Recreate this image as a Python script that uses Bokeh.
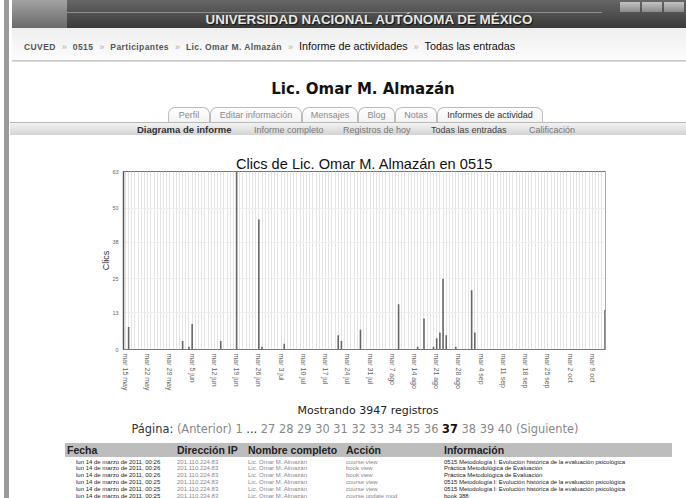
from bokeh.plotting import figure
from bokeh.models import Range1d, FixedTicker, Div
from bokeh.layouts import column
from bokeh.embed import file_html
from bokeh.resources import INLINE

# ---------------- data ----------------
tick_days = [0, 7, 14, 21, 28, 35, 42, 49, 56, 63, 70, 77, 84, 91, 98, 105, 112, 119, 126, 133, 140, 147]
tick_labels = ["mar 15 may", "mar 22 may", "mar 29 may", "mar 5 jun", "mar 12 jun", "mar 19 jun",
               "mar 26 jun", "mar 3 jul", "mar 10 jul", "mar 17 jul", "mar 24 jul", "mar 31 jul",
               "mar 7 ago", "mar 14 ago", "mar 21 ago", "mar 28 ago", "mar 4 sep", "mar 11 sep",
               "mar 18 sep", "mar 25 sep", "mar 2 oct", "mar 9 oct"]
bar_days = [1, 18, 20, 21, 30, 35, 42, 43, 50, 67, 68, 74, 86, 92, 94, 97, 98, 99, 100, 101, 104, 109, 110, 151]
bar_clicks = [8, 3, 1, 9, 3, 63, 46, 1, 2, 5, 3, 7, 16, 1, 11, 1, 4, 6, 25, 5, 1, 21, 6, 14]
y_ticks = [0, 13, 25, 38, 50, 63]
n_days = 152

chart_title = "Clics de Lic. Omar M. Almazán en 0515"
y_label = "Clics"

banner_text = "UNIVERSIDAD NACIONAL AUTÓNOMA DE MÉXICO"
crumbs_small = ["CUVED", "0515", "Participantes", "Lic. Omar M. Almazán"]
crumbs_big = ["Informe de actividades", "Todas las entradas"]
user_name = "Lic. Omar M. Almazán"
tabs = ["Perfil", "Editar información", "Mensajes", "Blog", "Notas", "Informes de actividad"]
subtabs = ["Diagrama de informe", "Informe completo", "Registros de hoy", "Todas las entradas", "Calificación"]
records_text = "Mostrando 3947 registros"
pages = ["1", "...", "27", "28", "29", "30", "31", "32", "33", "34", "35", "36", "37", "38", "39", "40"]
current_page = "37"
table_headers = ["Fecha", "Dirección IP", "Nombre completo", "Acción", "Información"]
row_dates = ["lun 14 de marzo de 2011, 00:26", "lun 14 de marzo de 2011, 00:26", "lun 14 de marzo de 2011, 00:26",
             "lun 14 de marzo de 2011, 00:25", "lun 14 de marzo de 2011, 00:25", "lun 14 de marzo de 2011, 00:25"]
row_ips = ["201.110.224.83"] * 6
row_names = ["Lic. Omar M. Almazán"] * 6
row_actions = ["course view", "book view", "book view", "course view", "course view", "course update mod"]
row_info = ["0515 Metodología I: Evolución histórica de la evaluación psicológica",
            "Práctica Metodológica de Evaluación",
            "Práctica Metodológica de Evaluación",
            "0515 Metodología I: Evolución histórica de la evaluación psicológica",
            "0515 Metodología I: Evolución histórica de la evaluación psicológica",
            "book 388"]

ARIAL = "'Liberation Sans', Arial, sans-serif"
VERD = "'DejaVu Sans', Verdana, sans-serif"


def box(x, y, w, h, bg, extra=""):
    return (f'<div style="position:absolute;left:{x}px;top:{y}px;width:{w}px;height:{h}px;'
            f'background:{bg};{extra}"></div>')


def txt(x, y, s, size, color="#222", weight="normal", fam=ARIAL, anchor="left", extra="", lh=1.2):
    tr = "translate(-50%,-50%)" if anchor == "center" else "translateY(-50%)"
    return (f'<div style="position:absolute;left:{x}px;top:{y}px;transform:{tr};font-family:{fam};'
            f'font-size:{size}px;font-weight:{weight};color:{color};white-space:nowrap;line-height:{lh};{extra}">{s}</div>')


# ---------------- top of page ----------------
top = [box(4, 0, 5, 150, "#9a9a9a")]
top.append(box(12, 0, 674, 28, "linear-gradient(#666666,#3a3a3a)"))
top.append(box(12, 0, 55, 28, "linear-gradient(#a2a2a2,#6a6a6a)"))
top.append(box(67, 12, 535, 1, "#8e8e8e"))
for ix in (620, 642, 664):
    top.append(box(ix, 2, 20, 10, "linear-gradient(#c4c4c4,#8a8a8a)"))
top.append(txt(369, 20, banner_text, 13.4, "#e6e6e6", "bold", ARIAL, "center",
               "text-shadow:1px 1px 1px #111;"))
top.append(box(12, 28, 674, 32, "linear-gradient(#efefef,#fcfcfc)"))
top.append(box(12, 60, 674, 2, "linear-gradient(#bdbdbd,#e8e8e8)"))
SEP = '<span style="color:#aaa;font-weight:normal;font-size:9px;margin:0 6px;letter-spacing:0">»</span>'
crumb_html = SEP.join(f'<span style="font-size:8.5px;font-weight:bold;color:#555;letter-spacing:0.4px">{s}</span>'
                      for s in crumbs_small)
crumb_html += SEP + SEP.join(f'<span style="font-size:10.8px;color:#111">{s}</span>' for s in crumbs_big)
top.append(txt(24, 46, crumb_html, 10.8, "#111"))
top.append(txt(363, 89, user_name, 15, "#111", "bold", VERD, "center"))
tab_x = [168, 210, 302, 358, 395, 437]
tab_w = [42, 92, 56, 37, 42, 106]
for i, (tx, tw, s) in enumerate(zip(tab_x, tab_w, tabs)):
    col = "#333" if i == len(tabs) - 1 else "#8a8a8a"
    top.append(f'<div style="position:absolute;left:{tx}px;top:107px;width:{tw}px;height:15px;box-sizing:border-box;'
               f'border:1px solid #bcbcbc;border-bottom:none;border-radius:7px 7px 0 0;'
               f'background:linear-gradient(#ffffff,#f3f3f3);text-align:center;line-height:14px;'
               f'font-family:{ARIAL};font-size:9px;color:{col};white-space:nowrap;">{s}</div>')
top.append(box(10, 122, 676, 13, "linear-gradient(#f3f3f3,#d3d3d3)", "border-top:1px solid #b8b8b8;"))
sub_x = [137, 254, 343, 431, 529]
sub_c = ["#333", "#777", "#777", "#444", "#777"]
for i, (sx_, s, c) in enumerate(zip(sub_x, subtabs, sub_c)):
    top.append(txt(sx_, 130, s, 9.5 if i == 0 else 9, c, "bold" if i == 0 else "normal"))

top_div = Div(text='<div style="position:relative;width:686px;height:150px;overflow:hidden;">'
              + "".join(top) + "</div>", width=686, height=150, margin=0)

# ---------------- chart ----------------
p = figure(width=686, height=252, x_range=Range1d(-0.62, 151.15), y_range=Range1d(0, 63),
           output_backend="svg", toolbar_location=None,
           min_border_left=123, min_border_right=81, min_border_top=21, min_border_bottom=53,
           title=chart_title)
p.title.align = "center"
p.title.text_font = "Liberation Sans"
p.title.text_font_size = "14.6px"
p.title.text_font_style = "normal"
p.title.text_color = "#111111"
p.title.standoff = 0
p.title.offset = 0

p.vbar(x=bar_days, top=bar_clicks, width=0.5, fill_color="#666666", line_color=None)

p.xaxis.ticker = FixedTicker(ticks=tick_days)
p.xaxis.major_label_overrides = dict(zip(tick_days, tick_labels))
p.xaxis.major_label_orientation = "vertical"
p.xaxis.major_label_text_font = "Liberation Sans"
p.xaxis.major_label_text_font_size = "7px"
p.xaxis.major_label_text_color = "#666666"
p.xaxis.major_label_standoff = 4
p.xaxis.major_tick_out = 0
p.xaxis.major_tick_in = 0
p.xaxis.major_tick_line_color = None
p.xaxis.minor_tick_line_color = None
p.xaxis.axis_line_color = "#777777"
p.xaxis.axis_line_dash = "1 1"

p.yaxis.ticker = FixedTicker(ticks=y_ticks)
p.yaxis.major_label_text_font = "Liberation Sans"
p.yaxis.major_label_text_font_size = "5.5px"
p.yaxis.major_label_text_color = "#666666"
p.yaxis.major_label_standoff = 5
p.yaxis.major_tick_out = 0
p.yaxis.major_tick_in = 0
p.yaxis.major_tick_line_color = None
p.yaxis.minor_tick_line_color = None
p.yaxis.axis_line_color = "#555555"
p.yaxis.axis_line_width = 1.5
p.yaxis.axis_label = y_label
p.yaxis.axis_label_text_font = "Liberation Sans"
p.yaxis.axis_label_text_font_size = "9px"
p.yaxis.axis_label_text_font_style = "normal"
p.yaxis.axis_label_text_color = "#333333"
p.yaxis.axis_label_standoff = -2

p.xgrid.ticker = FixedTicker(ticks=list(range(n_days)))
p.xgrid.grid_line_color = "#e4e4e4"
p.ygrid.grid_line_color = "#eeeeee"
p.outline_line_color = "#707070"
p.background_fill_color = "#ffffff"
p.border_fill_color = None

# ---------------- bottom of page ----------------
bot = [box(4, 0, 5, 96, "#9a9a9a")]
bot.append(txt(368, 9, records_text, 11, "#222", "normal", VERD, "center"))
pg = ['<span style="color:#333">Página:</span>', '<span style="color:#888">(Anterior)</span>']
for s in pages:
    if s == current_page:
        pg.append(f'<b style="color:#111">{s}</b>')
    elif s == "...":
        pg.append(f'<span style="color:#333">{s}</span>')
    else:
        pg.append(f'<span style="color:#888">{s}</span>')
pg.append('<span style="color:#888">(Siguiente)</span>')
bot.append(txt(355, 28, " ".join(pg), 11.4, "#888", "normal", VERD, "center"))
bot.append(box(65, 41, 607, 14, "#bdbdbd"))
head_x = [67, 177, 248, 346, 444]
for hx, s in zip(head_x, table_headers):
    bot.append(txt(hx, 48, s, 10.5, "#222", "bold"))
row_y0 = 59.5
for r in range(len(row_dates)):
    ry = row_y0 + 6.8 * r
    bot.append(txt(76, ry, row_dates[r], 6, "#222", lh=1))
    bot.append(txt(177, ry, row_ips[r], 6, "#888", lh=1))
    bot.append(txt(248, ry, row_names[r], 6, "#888", lh=1))
    bot.append(txt(346, ry, row_actions[r], 6, "#888", lh=1))
    bot.append(txt(444, ry, row_info[r], 6, "#222", lh=1))

bot_div = Div(text='<div style="position:relative;width:686px;height:96px;overflow:hidden;">'
              + "".join(bot) + "</div>", width=686, height=96, margin=0)

layout = column(top_div, p, bot_div, spacing=0,
                styles={"background": "linear-gradient(to right, #fff 4px, #9a9a9a 4px, #9a9a9a 9px, #fff 9px)"})
open("out.html", "w").write(file_html(layout, INLINE))
